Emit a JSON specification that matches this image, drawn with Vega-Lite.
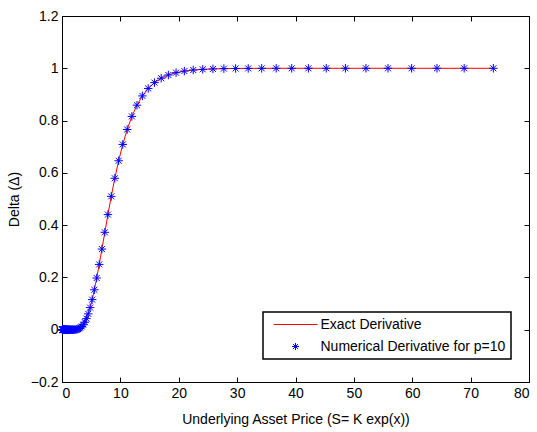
{
  "$schema": "https://vega.github.io/schema/vega-lite/v6.json",
  "width": 467,
  "height": 366,
  "autosize": {"type": "none"},
  "padding": {"left": 62, "top": 16, "right": 8, "bottom": 50},
  "background": "white",
  "config": {
    "font": "Liberation Sans",
    "view": {"stroke": "black", "strokeWidth": 1},
    "axis": {
      "grid": false,
      "domainColor": "black",
      "domainWidth": 1,
      "tickColor": "black",
      "tickSize": -5,
      "labelColor": "black",
      "labelFontSize": 14,
      "labelOverlap": false,
      "labelBound": false,
      "labelFont": "Liberation Sans",
      "titleFont": "Liberation Sans",
      "titleFontSize": 14,
      "titleFontWeight": "normal",
      "titleColor": "black"
    }
  },
  "data": {
    "values": [
      {"S": 0.0674, "delta": 0}, {"S": 0.0723, "delta": 0}, {"S": 0.0775, "delta": 0}, {"S": 0.0831, "delta": 0},
      {"S": 0.0892, "delta": 0}, {"S": 0.0956, "delta": 0}, {"S": 0.1026, "delta": 0}, {"S": 0.1100, "delta": 0},
      {"S": 0.1180, "delta": 0}, {"S": 0.1266, "delta": 0}, {"S": 0.1357, "delta": 0}, {"S": 0.1456, "delta": 0},
      {"S": 0.1561, "delta": 0}, {"S": 0.1675, "delta": 0}, {"S": 0.1796, "delta": 0}, {"S": 0.1926, "delta": 0},
      {"S": 0.2066, "delta": 0}, {"S": 0.2215, "delta": 0}, {"S": 0.2376, "delta": 0}, {"S": 0.2548, "delta": 0},
      {"S": 0.2732, "delta": 0}, {"S": 0.2930, "delta": 0}, {"S": 0.3143, "delta": 0}, {"S": 0.3371, "delta": 0},
      {"S": 0.3615, "delta": 0}, {"S": 0.3877, "delta": 0}, {"S": 0.4159, "delta": 0}, {"S": 0.4460, "delta": 0},
      {"S": 0.4783, "delta": 0}, {"S": 0.5130, "delta": 0}, {"S": 0.5502, "delta": 0}, {"S": 0.5901, "delta": 0},
      {"S": 0.6329, "delta": 0}, {"S": 0.6788, "delta": 0}, {"S": 0.7280, "delta": 0}, {"S": 0.7808, "delta": 0},
      {"S": 0.8374, "delta": 0}, {"S": 0.8981, "delta": 0}, {"S": 0.9632, "delta": 0}, {"S": 1.0331, "delta": 0},
      {"S": 1.1080, "delta": 0}, {"S": 1.1883, "delta": 0}, {"S": 1.2745, "delta": 0}, {"S": 1.3669, "delta": 0.000001},
      {"S": 1.4661, "delta": 0.000004}, {"S": 1.5724, "delta": 0.000015}, {"S": 1.6864, "delta": 0.000032},
      {"S": 1.8087, "delta": 0.000065}, {"S": 1.9398, "delta": 0.000131}, {"S": 2.0805, "delta": 0.000255},
      {"S": 2.2313, "delta": 0.000483}, {"S": 2.3931, "delta": 0.000889}, {"S": 2.5666, "delta": 0.00159},
      {"S": 2.7527, "delta": 0.00276}, {"S": 2.9523, "delta": 0.00466}, {"S": 3.1664, "delta": 0.00766},
      {"S": 3.3960, "delta": 0.01222}, {"S": 3.6422, "delta": 0.0190}, {"S": 3.9063, "delta": 0.0287},
      {"S": 4.1895, "delta": 0.0423}, {"S": 4.4933, "delta": 0.0606}, {"S": 4.8191, "delta": 0.0846},
      {"S": 5.1685, "delta": 0.1151}, {"S": 5.5433, "delta": 0.1527}, {"S": 5.9452, "delta": 0.1977},
      {"S": 6.3763, "delta": 0.2498}, {"S": 6.8386, "delta": 0.3085}, {"S": 7.3345, "delta": 0.3726},
      {"S": 7.8663, "delta": 0.4404}, {"S": 8.4366, "delta": 0.5100}, {"S": 9.0484, "delta": 0.5793},
      {"S": 9.7045, "delta": 0.6462}, {"S": 10.408, "delta": 0.7088}, {"S": 11.163, "delta": 0.7658},
      {"S": 11.972, "delta": 0.8159}, {"S": 12.840, "delta": 0.8588}, {"S": 13.771, "delta": 0.8944},
      {"S": 14.770, "delta": 0.9229}, {"S": 15.841, "delta": 0.9452}, {"S": 16.989, "delta": 0.9620},
      {"S": 18.221, "delta": 0.9744}, {"S": 19.542, "delta": 0.9832}, {"S": 20.959, "delta": 0.9893},
      {"S": 22.479, "delta": 0.9933}, {"S": 24.109, "delta": 0.9960}, {"S": 25.857, "delta": 0.9976},
      {"S": 27.732, "delta": 0.99865}, {"S": 29.743, "delta": 0.99925}, {"S": 31.899, "delta": 0.99960},
      {"S": 34.212, "delta": 0.99979}, {"S": 36.693, "delta": 0.99989}, {"S": 39.354, "delta": 0.99995},
      {"S": 42.207, "delta": 0.99997}, {"S": 45.267, "delta": 0.99999}, {"S": 48.550, "delta": 1},
      {"S": 52.070, "delta": 1}, {"S": 55.845, "delta": 1}, {"S": 59.895, "delta": 1},
      {"S": 64.237, "delta": 1}, {"S": 68.895, "delta": 1}, {"S": 73.891, "delta": 1}
    ]
  },
  "layer": [
    {
      "mark": {"type": "line", "strokeWidth": 1, "clip": true},
      "encoding": {
        "x": {"field": "S", "type": "quantitative",
              "scale": {"domain": [0, 80], "nice": false, "zero": false},
              "axis": {"orient": "bottom", "values": [0, 10, 20, 30, 40, 50, 60, 70, 80], "labelPadding": 9, "titlePadding": 12, "title": "Underlying Asset Price (S= K exp(x))"}},
        "y": {"field": "delta", "type": "quantitative",
              "scale": {"domain": [-0.2, 1.2], "nice": false, "zero": false},
              "axis": {"orient": "left", "values": [-0.2, 0, 0.2, 0.4, 0.6, 0.8, 1, 1.2], "labelExpr": "datum.value == 0 ? '0' : format(datum.value, '.1~f')", "labelPadding": 9, "titlePadding": 9, "title": "Delta (Δ)"}},
        "color": {
          "datum": "Exact Derivative",
          "type": "nominal",
          "scale": {"domain": ["Exact Derivative", "Numerical Derivative for p=10"], "range": ["#ff0000", "#0000ff"]},
          "legend": {
            "title": null,
            "orient": "none",
            "legendX": 201,
            "legendY": 296,
            "direction": "vertical",
            "padding": 5.5,
            "strokeColor": "black",
            "fillColor": "white",
            "symbolSize": 100,
            "symbolOffset": 20,
            "labelOffset": 18,
            "labelLimit": 400,
            "rowPadding": 8,
            "labelFontSize": 14,
            "labelColor": "black",
            "labelFont": "Liberation Sans",
            "encode": {
              "legend": {"update": {"strokeWidth": {"value": 1.5}}},
              "symbols": {
                "update": {
                  "shape": {"signal": "datum.value === 'Exact Derivative' ? 'stroke' : 'M-1,0L1,0M0,-1L0,1M-0.7,-0.7L0.7,0.7M-0.7,0.7L0.7,-0.7'"},
                  "size": {"signal": "datum.value === 'Exact Derivative' ? 1936 : 49"},
                  "stroke": {"signal": "datum.value === 'Exact Derivative' ? '#ff0000' : '#0000ff'"},
                  "fill": {"value": "transparent"},
                  "strokeWidth": {"value": 1},
                  "opacity": {"value": 1}
                }
              }
            }
          }
        }
      }
    },
    {
      "mark": {"type": "point", "shape": "M-1,0L1,0M0,-1L0,1M-0.7,-0.7L0.7,0.7M-0.7,0.7L0.7,-0.7", "filled": false, "size": 72, "strokeWidth": 1, "opacity": 1},
      "encoding": {
        "x": {"field": "S", "type": "quantitative",
              "axis": {"orient": "top", "values": [0, 10, 20, 30, 40, 50, 60, 70, 80], "labels": false, "title": null}},
        "y": {"field": "delta", "type": "quantitative",
              "axis": {"orient": "right", "values": [-0.2, 0, 0.2, 0.4, 0.6, 0.8, 1, 1.2], "labels": false, "title": null}},
        "color": {"datum": "Numerical Derivative for p=10", "type": "nominal"}
      }
    }
  ],
  "resolve": {"axis": {"x": "independent", "y": "independent"}}
}
